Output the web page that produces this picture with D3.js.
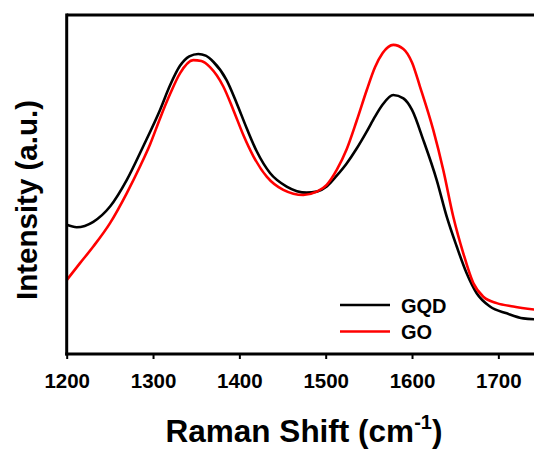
<!DOCTYPE html>
<html><head><meta charset="utf-8">
<script src="https://cdn.jsdelivr.net/npm/d3@7"></script>
<style>body{margin:0;background:#fff}svg{display:block}</style>
</head><body>
<svg id="c" width="534" height="450"></svg>
<script>
const seriesNames = ["GQD", "GO"];
const seriesColors = ["#000000", "#ff0000"];
const xTicks = [1200, 1300, 1400, 1500, 1600, 1700];
const gqdShift = [1200,1211.6,1230.8,1250.2,1269.5,1288.7,1308.1,1319.6,1331.2,1342,1352.4,1361,1369.8,1385.2,1396.9,1408.5,1420.1,1435.5,1454.8,1478.0,1489.6,1501.2,1512.8,1524.3,1535.9,1547.5,1557.1,1566,1578.3,1590,1600,1613.1,1628.6,1640.2,1651.8,1663.3,1674.9,1690.3,1709.7,1728.9,1745];
const gqdIntensity = [38.1,37.4,39.0,43.5,51.3,61.3,72.0,79.2,85.0,87.8,88.5,88.0,86.2,80.8,74.0,66.6,59.8,53.4,49.4,47.6,47.9,49.4,52.6,56.2,60.6,65.6,70.0,73.6,76.4,75.4,72.0,63.1,51.3,40.5,31.7,23.8,17.9,14.0,12.0,10.5,10.2];
const goShift = [1200,1215.4,1230.8,1250.2,1269.5,1284.9,1296.5,1308.1,1319.6,1331.2,1346.6,1356,1366.0,1381.4,1393.0,1404.6,1416.1,1431.7,1450.9,1474.1,1489.6,1501.2,1512.8,1524.3,1535.9,1547.5,1557.1,1566,1578.3,1590,1600,1609.2,1624.6,1636.2,1647.8,1659.4,1671.0,1682.6,1698.1,1717.3,1745];
const goIntensity = [21.8,26.8,31.7,38.6,47.4,55.3,61.8,69.5,76.6,82.8,86.7,86.4,84.6,78.9,72.0,64.6,58.4,52.3,48.4,46.9,47.9,49.9,54.3,60.4,68.8,77.8,84.6,88.8,91.2,90.0,86.0,78.9,66.1,54.3,40.5,29.7,20.9,16.9,15.0,14.0,13.0];

const svg = d3.select("#c");
const x = d3.scaleLinear().domain([1200, 1750]).range([66.7, 66.7 + 550 * 0.8633]);
const y = d3.scaleLinear().domain([0, 100]).range([354, 15]);
const font = "'Liberation Sans', Arial, sans-serif";

const series = [
  {name: seriesNames[0], color: seriesColors[0], pts: gqdShift.map((s, i) => [s, gqdIntensity[i]])},
  {name: seriesNames[1], color: seriesColors[1], pts: goShift.map((s, i) => [s, goIntensity[i]])}
];
const line = d3.line().x(d => x(d[0])).y(d => y(d[1])).curve(d3.curveMonotoneX);

series.forEach(s => {
  svg.append("path").attr("d", line(s.pts)).attr("fill", "none")
    .attr("stroke", s.color).attr("stroke-width", 2.6).attr("stroke-linejoin", "round");
});

// frame: top border
svg.append("line").attr("x1", x(1200)).attr("x2", 534).attr("y1", y(100)).attr("y2", y(100))
  .attr("stroke", "#000").attr("stroke-width", 3);
// left axis (no ticks)
svg.append("line").attr("x1", x(1200)).attr("x2", x(1200)).attr("y1", y(100) - 1.5).attr("y2", y(0) + 1.5)
  .attr("stroke", "#000").attr("stroke-width", 3);

// bottom axis
const xAxis = d3.axisBottom(x).tickValues(xTicks).tickSize(5).tickPadding(14).tickFormat(d3.format("d"));
const gx = svg.append("g").attr("transform", `translate(0,${y(0)})`).call(xAxis);
gx.select(".domain").attr("stroke-width", 3).attr("d", `M${x(1200) - 1.5},0H534`);
gx.selectAll(".tick line").attr("stroke-width", 2);
gx.selectAll(".tick text").attr("font-family", font).attr("font-weight", "bold")
  .attr("font-size", 20.5).attr("fill", "#000");

// axis titles
const xt = svg.append("text").attr("x", 304).attr("y", 442).attr("text-anchor", "middle")
  .attr("font-family", font).attr("font-weight", "bold").attr("font-size", 31.5).attr("fill", "#000");
xt.append("tspan").text("Raman Shift (cm");
xt.append("tspan").text("-1").attr("font-size", 20).attr("dy", -13);
xt.append("tspan").text(")").attr("dy", 13);

svg.append("text").attr("transform", "translate(37,200) rotate(-90)").attr("text-anchor", "middle")
  .attr("font-family", font).attr("font-weight", "bold").attr("font-size", 29.5).attr("fill", "#000")
  .text("Intensity (a.u.)");

// legend
series.forEach((s, i) => {
  const ly = 305 + i * 26.5;
  svg.append("line").attr("x1", 340).attr("x2", 390).attr("y1", ly).attr("y2", ly)
    .attr("stroke", s.color).attr("stroke-width", 2.6);
  svg.append("text").attr("x", 401).attr("y", ly + 7.5).attr("font-family", font)
    .attr("font-weight", "bold").attr("font-size", 20).attr("fill", "#000").text(s.name);
});
</script>
</body></html>
